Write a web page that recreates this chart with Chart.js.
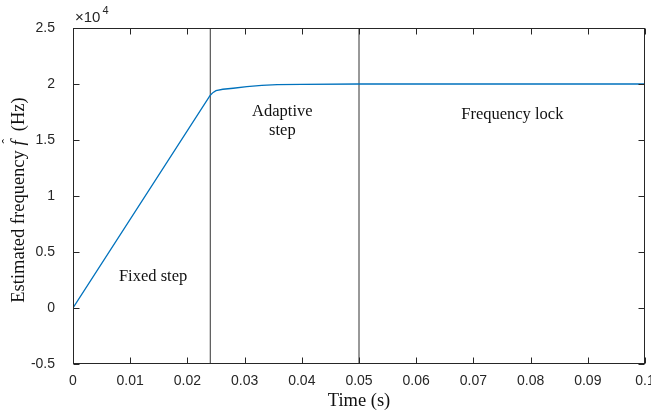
<!DOCTYPE html>
<html>
<head>
<meta charset="utf-8">
<script src="https://cdn.jsdelivr.net/npm/chart.js@4"></script>
<style>
  html, body { margin: 0; padding: 0; background: #fff; }
  #wrap { width: 651px; height: 412px; }
</style>
</head>
<body>
<div id="wrap"><canvas id="myChart" width="651" height="412"></canvas></div>
<script>
// time (s) and estimated frequency (Hz)
const time = [0, 0.024, 0.0245, 0.025, 0.0262, 0.028, 0.0304, 0.033, 0.0357, 0.04, 0.05, 0.1];
const freq = [0, 19000, 19250, 19400, 19530, 19620, 19760, 19870, 19940, 19975, 20000, 20000];

// phase boundaries
const boundaries = [0.024, 0.05];

const xTicks = [0, 0.01, 0.02, 0.03, 0.04, 0.05, 0.06, 0.07, 0.08, 0.09, 0.1];
const yTicks = [-5000, 0, 5000, 10000, 15000, 20000, 25000];

// region labels: [x, y, lines]
const labels = [
  [0.014, 2800, ["Fixed step"]],
  [0.0366, 17500, ["Adaptive", "step"]],
  [0.0768, 17250, ["Frequency lock"]]
];

const axisColor = "#262626";
const serif = "'Liberation Serif', serif";
const sans = "'Liberation Sans', Arial, sans-serif";

const boxPlugin = {
  id: "box",
  afterDraw(chart) {
    const { ctx, chartArea: a, scales } = chart;
    ctx.save();
    ctx.lineWidth = 1;
    const L = Math.round(a.left) + 0.5, R = Math.round(a.right) - 0.5;
    const T = Math.round(a.top) + 0.5, B = Math.round(a.bottom) - 0.5;

    // inward ticks on all four sides
    const len = 6;
    ctx.strokeStyle = axisColor;
    ctx.beginPath();
    for (const v of xTicks) {
      const px = Math.round(scales.x.getPixelForValue(v)) + 0.5;
      ctx.moveTo(px, B); ctx.lineTo(px, B - len);
      ctx.moveTo(px, T); ctx.lineTo(px, T + len);
    }
    for (const v of yTicks) {
      const py = Math.round(scales.y.getPixelForValue(v)) + 0.5;
      ctx.moveTo(L, py); ctx.lineTo(L + len, py);
      ctx.moveTo(R, py); ctx.lineTo(R - len, py);
    }
    ctx.stroke();
    ctx.strokeRect(L, T, R - L, B - T);

    // exponent label
    ctx.fillStyle = axisColor;
    ctx.textBaseline = "alphabetic";
    ctx.textAlign = "left";
    ctx.font = "15px " + sans;
    ctx.fillText("\u00d710", a.left + 2, a.top - 6);
    const w = ctx.measureText("\u00d710").width;
    ctx.font = "11px " + sans;
    ctx.fillText("4", a.left + w + 4, a.top - 14);

    // region labels
    ctx.fillStyle = "#111";
    ctx.textAlign = "center";
    ctx.textBaseline = "middle";
    ctx.font = "16.5px " + serif;
    labels.forEach(([x, y, lines]) => {
      const px = scales.x.getPixelForValue(x);
      const py = scales.y.getPixelForValue(y);
      lines.forEach((t, i) => ctx.fillText(t, px, py + i * 19));
    });

    // y axis title with italic f-hat
    const parts = [
      ["Estimated frequency ", "18.5px " + serif],
      ["f", "italic 18.5px " + serif],
      ["  (Hz)", "18.5px " + serif]
    ];
    let total = 0;
    parts.forEach(p => { ctx.font = p[1]; total += ctx.measureText(p[0]).width; });
    ctx.translate(19, (a.top + a.bottom) / 2 + 4);
    ctx.rotate(-Math.PI / 2);
    ctx.textAlign = "left";
    let x0 = -total / 2;
    parts.forEach(p => {
      ctx.font = p[1];
      const pw = ctx.measureText(p[0]).width;
      ctx.fillText(p[0], x0, 0);
      if (p[0] === "f") {
        ctx.font = "14px " + serif;
        ctx.fillText("\u02c6", x0 + 2, -11);
      }
      x0 += pw;
    });
    ctx.restore();
  }
};

const datasets = [{
  data: time.map((t, i) => ({ x: t, y: freq[i] })),
  borderColor: "#0072BD",
  borderWidth: 1.3,
  pointRadius: 0,
  tension: 0,
  fill: false
}];
boundaries.forEach(b => datasets.push({
  data: [{ x: b, y: -5000 }, { x: b, y: 25000 }],
  borderColor: "#333333",
  borderWidth: 1,
  pointRadius: 0,
  fill: false
}));

new Chart(document.getElementById("myChart").getContext("2d"), {
  type: "line",
  data: { datasets },
  options: {
    responsive: false,
    animation: false,
    layout: { padding: { top: 28, right: 6, left: 0, bottom: 0 } },
    plugins: { legend: { display: false }, tooltip: { enabled: false } },
    scales: {
      x: {
        type: "linear",
        min: 0, max: 0.1,
        afterBuildTicks: s => { s.ticks = xTicks.map(v => ({ value: v })); },
        afterFit: s => { s.height = 48; s.paddingLeft = 0; s.paddingRight = 0; },
        grid: { display: false },
        border: { display: false },
        ticks: {
          color: axisColor,
          padding: 1,
          font: { family: sans, size: 14 },
          maxRotation: 0,
          callback: v => String(parseFloat(v.toFixed(2)))
        },
        title: {
          display: true,
          text: "Time (s)",
          color: "#111",
          font: { family: serif, size: 18.5 },
          padding: { top: 0, bottom: 0 }
        }
      },
      y: {
        type: "linear",
        min: -5000, max: 25000,
        afterBuildTicks: s => { s.ticks = yTicks.map(v => ({ value: v })); },
        afterFit: s => { s.width = 73; s.paddingTop = 0; s.paddingBottom = 0; },
        grid: { display: false },
        border: { display: false },
        ticks: {
          color: axisColor,
          padding: 10,
          font: { family: sans, size: 14 },
          callback: v => String(v / 10000)
        }
      }
    }
  },
  plugins: [boxPlugin]
});
</script>
</body>
</html>
